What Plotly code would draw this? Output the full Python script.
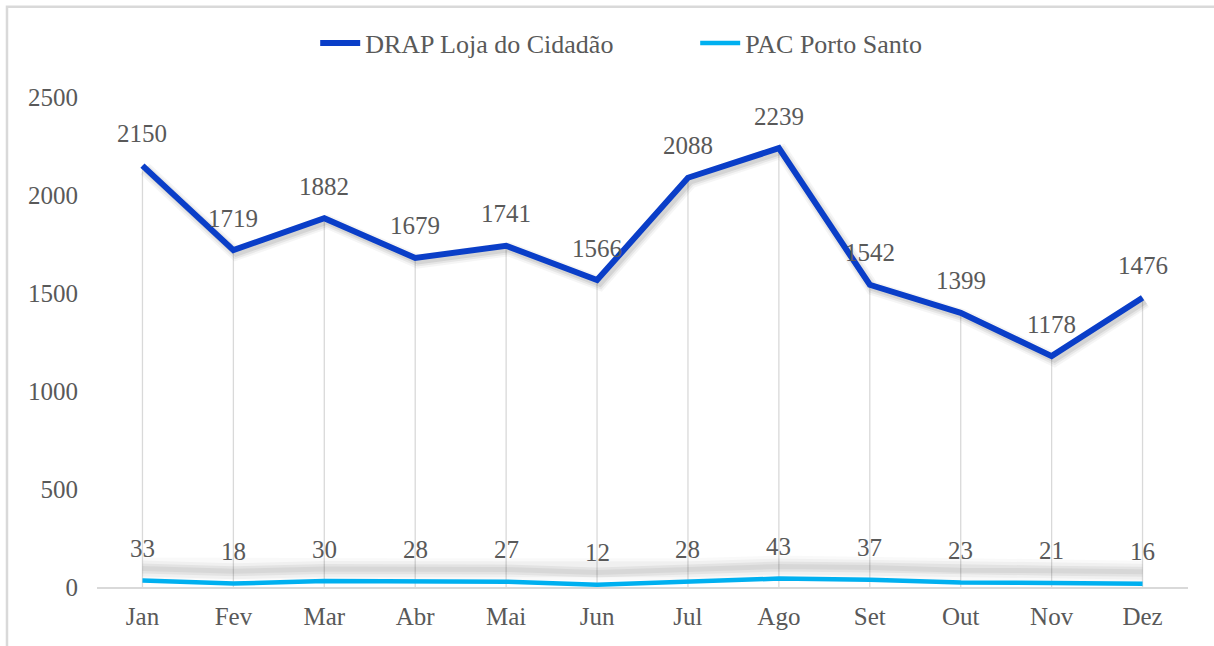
import plotly.graph_objects as go

months = ["Jan", "Fev", "Mar", "Abr", "Mai", "Jun", "Jul", "Ago", "Set", "Out", "Nov", "Dez"]
drap_loja = [2150, 1719, 1882, 1679, 1741, 1566, 2088, 2239, 1542, 1399, 1178, 1476]
pac_porto_santo = [33, 18, 30, 28, 27, 12, 28, 43, 37, 23, 21, 16]

DARK_BLUE = "#0A3EC8"
LIGHT_BLUE = "#00B0F0"
TEXT_GRAY = "#595959"
GRID_GRAY = "#D9D9D9"
FONT = "Liberation Serif"

x = list(range(len(months)))

fig = go.Figure()

# drop lines from each DRAP point down to the axis
drop_x, drop_y = [], []
for i, v in zip(x, drap_loja):
    drop_x += [i, i, None]
    drop_y += [0, v, None]
fig.add_trace(go.Scatter(x=drop_x, y=drop_y, mode="lines",
                         line=dict(color=GRID_GRAY, width=1.3),
                         hoverinfo="skip", showlegend=False))

# soft shadows under the series lines
for w, a in [(14, 0.04), (10, 0.06), (6, 0.08)]:
    fig.add_trace(go.Scatter(x=[i + 0.03 for i in x], y=[v - 18 for v in drap_loja],
                             mode="lines", line=dict(color=f"rgba(0,0,0,{a})", width=w),
                             hoverinfo="skip", showlegend=False))
for w, a in [(22, 0.025), (16, 0.035), (10, 0.05), (5, 0.05)]:
    fig.add_trace(go.Scatter(x=x, y=[v + 62 for v in pac_porto_santo],
                             mode="lines", line=dict(color=f"rgba(0,0,0,{a})", width=w),
                             hoverinfo="skip", showlegend=False))

fig.add_trace(go.Scatter(x=x, y=drap_loja, mode="lines", name="DRAP Loja do Cidadão",
                         line=dict(color=DARK_BLUE, width=6)))
fig.add_trace(go.Scatter(x=x, y=pac_porto_santo, mode="lines", name="PAC Porto Santo",
                         line=dict(color=LIGHT_BLUE, width=4.5)))

# value labels above each point
for series in (drap_loja, pac_porto_santo):
    for i, v in zip(x, series):
        fig.add_annotation(x=i, y=v, text=str(v), showarrow=False, yshift=32,
                           xanchor="center", yanchor="middle",
                           font=dict(family=FONT, size=25, color=TEXT_GRAY))

# outer chart border
fig.add_shape(type="rect", xref="paper", yref="paper",
              x0=-0.0825, x1=1.03, y0=-0.15, y1=1.184,
              line=dict(color=GRID_GRAY, width=2.5), fillcolor="rgba(0,0,0,0)")

fig.update_layout(
    width=1214, height=646,
    margin=dict(l=97, r=26, t=97, b=59),
    paper_bgcolor="white", plot_bgcolor="white",
    font=dict(family=FONT, size=25, color=TEXT_GRAY),
    legend=dict(orientation="h", x=0.2, xanchor="left", y=1.11, yanchor="middle",
                font=dict(family=FONT, size=26, color=TEXT_GRAY),
                itemwidth=40, entrywidth=325),
    xaxis=dict(range=[-0.5, 11.5], tickmode="array", tickvals=x, ticktext=months,
               showgrid=False, zeroline=False, showline=True, linecolor=GRID_GRAY,
               linewidth=1.5, ticks="", ticklabelstandoff=6,
               tickfont=dict(family=FONT, size=25, color=TEXT_GRAY)),
    yaxis=dict(range=[0, 2500], tickmode="linear", tick0=0, dtick=500,
               showgrid=False, zeroline=False, showline=False, ticks="",
               ticklabelstandoff=18,
               tickfont=dict(family=FONT, size=25, color=TEXT_GRAY)),
    showlegend=True,
)

fig.write_html("out.html")
